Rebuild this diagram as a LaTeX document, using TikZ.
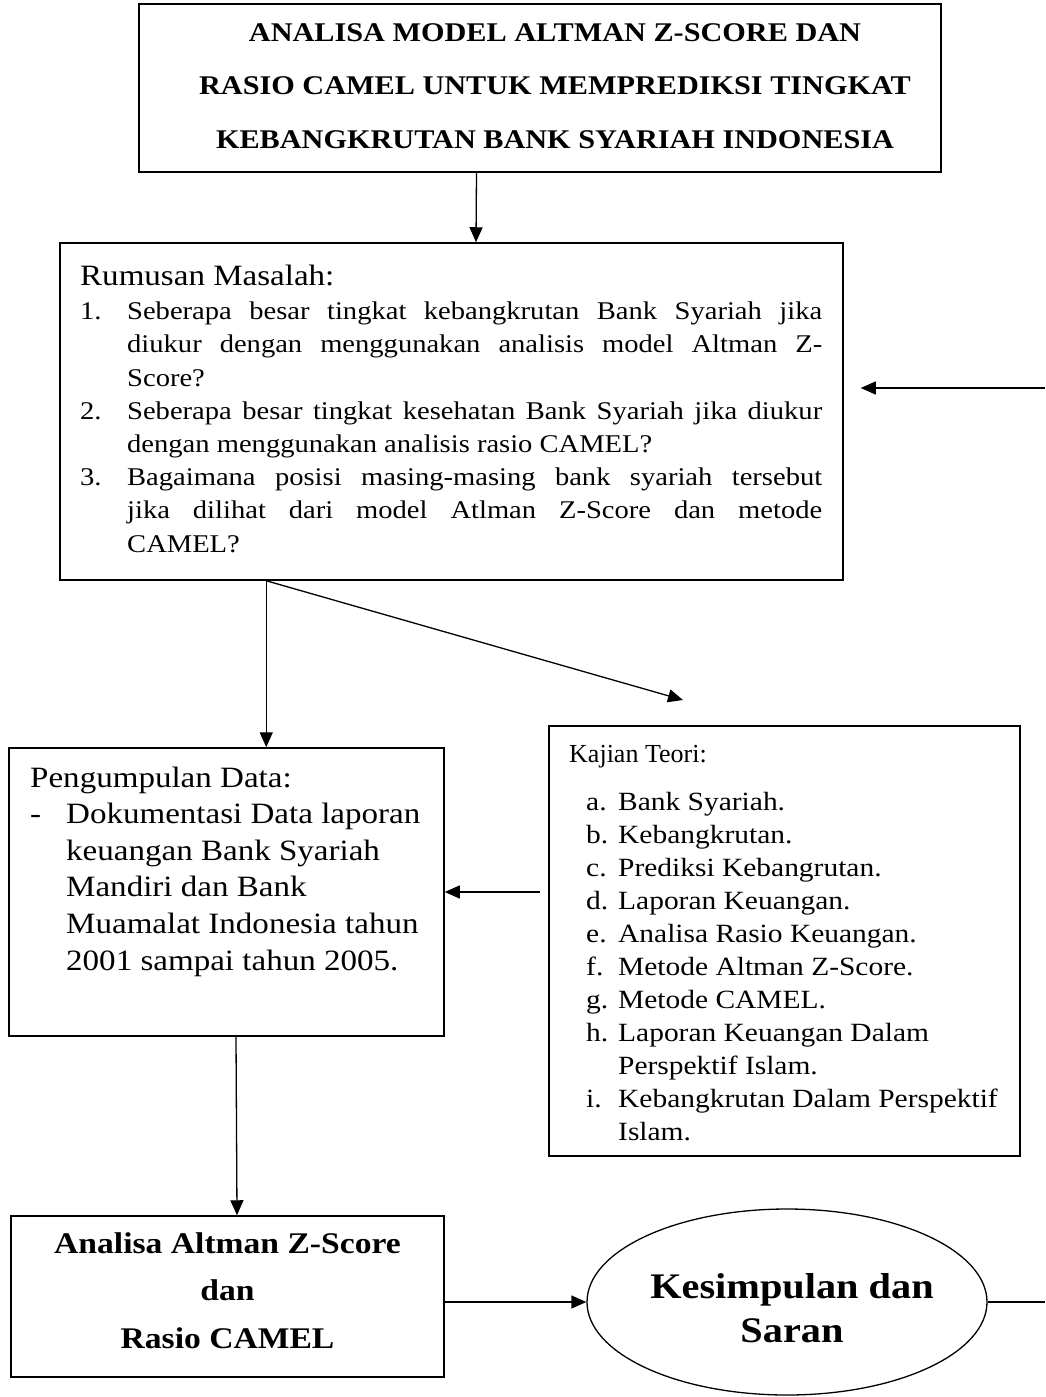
\documentclass[tikz,border=0pt]{standalone}
\usepackage{fontspec}
\setmainfont{Liberation Serif}[FakeStretch=1.12]
\newfontfamily\tmsfont{Liberation Serif}
\usetikzlibrary{arrows.meta,shapes.geometric}
\newcommand{\ritem}[2]{\par\noindent\hangindent=47pt\hangafter=1\makebox[47pt][l]{#1}#2\par}
\newcommand{\kitem}[2]{\par\noindent\hangindent=32pt\hangafter=1\makebox[32pt][l]{#1}#2\par}
\begin{document}
\begin{tikzpicture}[x=1pt,y=-1pt,
  box/.style={draw,line width=1.5pt,inner sep=0pt},
  arr/.style={line width=1.3pt,-{Triangle[length=15pt,width=13pt]}},
  ln/.style={line width=1.3pt},
  txt/.style={inner sep=0pt,anchor=base west}]
\useasboundingbox (0,0) rectangle (1045,1397);

% boxes
\node[box,minimum width=802pt,minimum height=168pt] (title) at (540,88) {};
\node[box,minimum width=783pt,minimum height=337pt] (rum) at (451.5,411.5) {};
\node[box,minimum width=435pt,minimum height=288pt] (pg) at (226.5,892) {};
\node[box,minimum width=471pt,minimum height=430pt] (kaj) at (784.5,941) {};
\node[box,minimum width=433pt,minimum height=161pt] (an) at (227.5,1296.5) {};
\node[draw,ellipse,line width=1.3pt,inner sep=0pt,minimum width=400pt,minimum height=186pt] (ell) at (787,1302) {};

% texts
\node[txt,anchor=base] (titletext) at (555,42) {\parbox[t]{780pt}{\centering\fontsize{27}{53}\selectfont\bfseries
ANALISA MODEL ALTMAN Z-SCORE DAN\\
RASIO CAMEL UNTUK MEMPREDIKSI TINGKAT\\
KEBANGKRUTAN BANK SYARIAH INDONESIA}};

\node[txt] (rumtext) at (80,285) {\parbox[t]{742pt}{\fontsize{29.5}{33}\selectfont Rumusan Masalah:\par
\fontsize{25.5}{33.2}\selectfont\tolerance=10000\hyphenpenalty=10000\vspace{1.5pt}%
\ritem{1.}{Seberapa besar tingkat kebangkrutan Bank Syariah jika\linebreak diukur dengan menggunakan analisis model Altman Z-\linebreak Score?}
\ritem{2.}{Seberapa besar tingkat kesehatan Bank Syariah jika diukur\linebreak dengan menggunakan analisis rasio CAMEL?}
\ritem{3.}{Bagaimana posisi masing-masing bank syariah tersebut\linebreak jika dilihat dari model Atlman Z-Score dan metode\linebreak CAMEL?}}};

\node[txt] (pgtext) at (30,787) {\parbox[t]{410pt}{\raggedright\fontsize{29.5}{36.6}\selectfont Pengumpulan Data:\par
\noindent\hangindent=36pt\hangafter=1\makebox[36pt][l]{-}Dokumentasi Data laporan\newline
keuangan Bank Syariah\newline
Mandiri dan Bank\newline
Muamalat Indonesia tahun\newline
2001 sampai tahun 2005.\par}};

\node[txt] (kajhead) at (569,762) {\fontsize{26}{30}\tmsfont\selectfont Kajian Teori:};
\node[txt] (kajtext) at (586,810) {\parbox[t]{430pt}{\raggedright\fontsize{26.3}{33}\selectfont
\kitem{a.}{Bank Syariah.}
\kitem{b.}{Kebangkrutan.}
\kitem{c.}{Prediksi Kebangrutan.}
\kitem{d.}{Laporan Keuangan.}
\kitem{e.}{Analisa Rasio Keuangan.}
\kitem{f.}{Metode Altman Z-Score.}
\kitem{g.}{Metode CAMEL.}
\kitem{h.}{Laporan Keuangan Dalam\newline Perspektif Islam.}
\kitem{i.}{Kebangkrutan Dalam Perspektif\newline Islam.}}};

\node[txt,anchor=base] (antext) at (227.5,1253) {\parbox[t]{420pt}{\centering\fontsize{30}{47.5}\selectfont\bfseries
Analisa Altman Z-Score\\dan\\Rasio CAMEL}};

\node[txt,anchor=base] (elltext) at (792,1298) {\parbox[t]{380pt}{\centering\fontsize{36}{44}\selectfont\bfseries
Kesimpulan dan\\Saran}};

% connectors
\coordinate (rs) at ([xshift=207pt]rum.south west);
\coordinate (diagend) at (683,700);
\coordinate (fbin) at (1045,388);
\coordinate (fbout) at (1045,1302);
\coordinate (fbedge) at (rum.east |- fbin);
\coordinate (kin) at (kaj.west |- pg.east);

\draw[arr] ([xshift=-63.5pt]title.south) -- ([xshift=24.5pt]rum.north);
\draw[arr] (fbin) -- ([xshift=17pt]fbedge);
\draw[arr] (rs) -- (rs |- pg.north);
\draw[arr] (rs) -- (diagend);
\draw[arr] ([xshift=-8pt]kin) -- (pg.east);
\draw[arr] ([xshift=9.5pt]pg.south) -- ([xshift=9.5pt]an.north);
\draw[arr] (an.east |- ell.west) -- (ell.west);
\draw[ln] (ell.east) -- (fbout);
\end{tikzpicture}
\end{document}
